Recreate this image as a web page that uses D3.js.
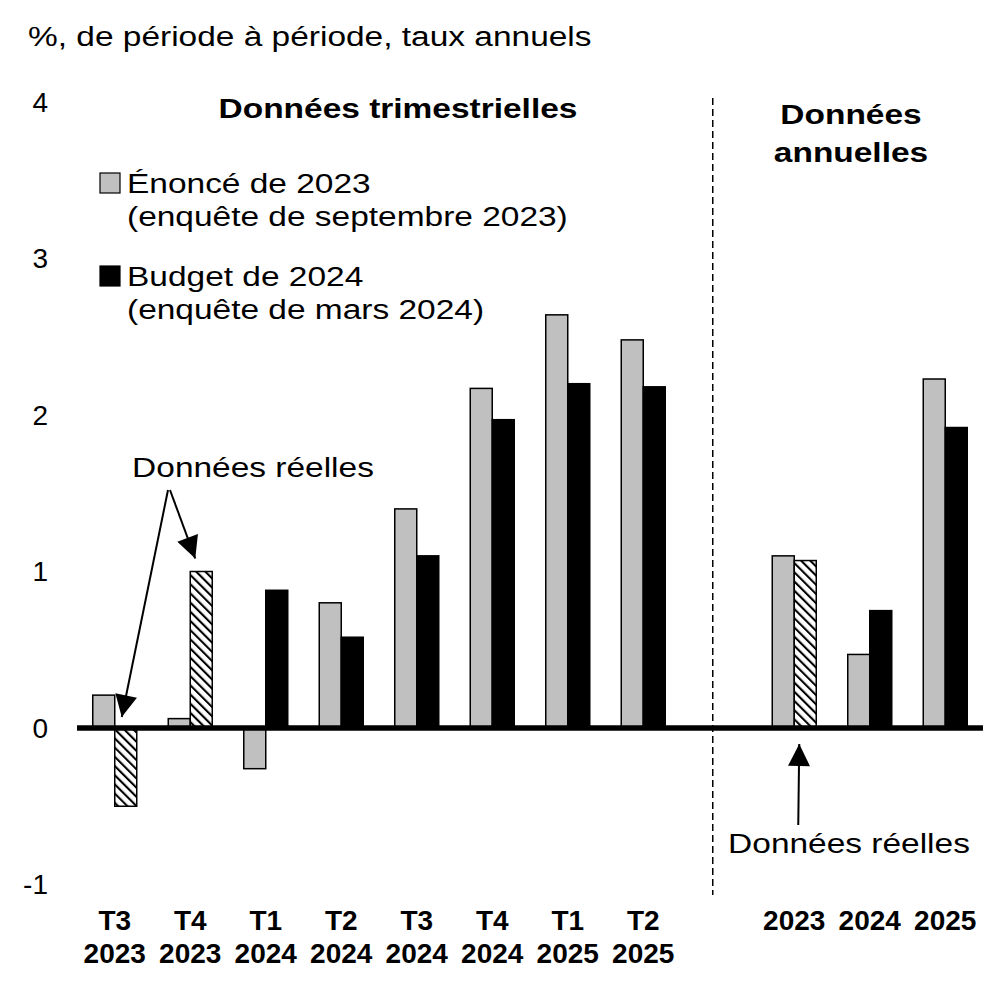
<!DOCTYPE html>
<html>
<head>
<meta charset="utf-8">
<script src="https://cdn.jsdelivr.net/npm/d3@7"></script>
<style>
  body { margin: 0; background: #fff; }
  svg text { font-family: "Liberation Sans", Arial, sans-serif; fill: #000; font-size: 28px; }
</style>
</head>
<body>
<svg width="1004" height="1004"></svg>
<script>
// categories (blank slot separates quarterly and annual data)
var categories = ["T3 2023", "T4 2023", "T1 2024", "T2 2024", "T3 2024", "T4 2024",
                  "T1 2025", "T2 2025", "", "2023", "2024", "2025"];
// Énoncé de 2023 (enquête de septembre 2023)
var fes2023 = [0.21, 0.06, -0.26, 0.80, 1.40, 2.17, 2.64, 2.48, null, 1.10, 0.47, 2.23];
// Budget de 2024 (enquête de mars 2024)
var budget2024 = [-0.50, 1.00, 0.88, 0.58, 1.10, 1.97, 2.20, 2.18, null, 1.07, 0.75, 1.92];
// which budget values are actual data (hatched)
var actual = [true, true, false, false, false, false, false, false, false, true, false, false];
var yTicks = [-1, 0, 1, 2, 3, 4];

var svg = d3.select("svg");
var gray = "#c0c0c0";
var sx = 1.195; // the source text is drawn horizontally wider

var x = d3.scaleBand().domain(categories).range([77, 983]).padding(0);
var y = d3.scaleLinear().domain([-1, 4]).range([884.5, 102]);
var barW = 22;
var cx = function (c) { return x(c) + x.bandwidth() / 2; };

// text block, one line per entry, stretched like the source
function label(px, py, lines, opts) {
  opts = opts || {};
  var t = svg.append("text")
      .attr("transform", "translate(" + px + "," + py + ") scale(" + sx + ",1)")
      .attr("text-anchor", opts.anchor || "start")
      .attr("font-weight", opts.bold ? "bold" : null);
  lines.forEach(function (l, k) {
    t.append("tspan").attr("x", 0).attr("dy", k === 0 ? 0 : (opts.lh || 33)).text(l);
  });
  return t;
}

var defs = svg.append("defs");
var pat = defs.append("pattern")
    .attr("id", "hatch")
    .attr("patternUnits", "userSpaceOnUse")
    .attr("width", 6.5)
    .attr("height", 6.5)
    .attr("patternTransform", "rotate(-45)");
pat.append("rect").attr("width", 6.5).attr("height", 6.5).attr("fill", "#fff");
pat.append("line").attr("x1", 1).attr("y1", 0).attr("x2", 1).attr("y2", 6.5)
    .attr("stroke", "#000").attr("stroke-width", 2.2);

defs.append("marker")
    .attr("id", "arrow")
    .attr("viewBox", "0 0 10 10")
    .attr("refX", 10).attr("refY", 5)
    .attr("markerUnits", "userSpaceOnUse")
    .attr("markerWidth", 24).attr("markerHeight", 22)
    .attr("orient", "auto")
  .append("path")
    .attr("d", "M0,0 L10,5 L0,10 Z")
    .attr("fill", "#000");

// title
label(28, 46, ["%, de période à période, taux annuels"]);

// y tick labels
svg.append("g").selectAll("text")
  .data(yTicks)
  .join("text")
    .attr("x", 48)
    .attr("y", function (d) { return y(d); })
    .attr("dy", "0.35em")
    .attr("text-anchor", "end")
    .text(function (d) { return d; });

// divider between quarterly and annual
svg.append("line")
    .attr("x1", cx("") - 6).attr("x2", cx("") - 6)
    .attr("y1", 98).attr("y2", 895)
    .attr("stroke", "#000")
    .attr("stroke-width", 1.5)
    .attr("stroke-dasharray", "7,4");

// bars
var idx = d3.range(categories.length).filter(function (i) { return fes2023[i] !== null; });
var bars = svg.append("g");
bars.selectAll("rect.fes")
  .data(idx)
  .join("rect")
    .attr("class", "fes")
    .attr("x", function (i) { return cx(categories[i]) - barW; })
    .attr("y", function (i) { return y(Math.max(0, fes2023[i])); })
    .attr("width", barW)
    .attr("height", function (i) { return Math.abs(y(fes2023[i]) - y(0)); })
    .attr("fill", gray)
    .attr("stroke", "#000")
    .attr("stroke-width", 1.5);
bars.selectAll("rect.bud")
  .data(idx)
  .join("rect")
    .attr("class", "bud")
    .attr("x", function (i) { return cx(categories[i]); })
    .attr("y", function (i) { return y(Math.max(0, budget2024[i])); })
    .attr("width", barW)
    .attr("height", function (i) { return Math.abs(y(budget2024[i]) - y(0)); })
    .attr("fill", function (i) { return actual[i] ? "url(#hatch)" : "#000"; })
    .attr("stroke", "#000")
    .attr("stroke-width", 1.5);

// zero line
svg.append("line")
    .attr("x1", 77).attr("x2", 983)
    .attr("y1", y(0)).attr("y2", y(0))
    .attr("stroke", "#000")
    .attr("stroke-width", 5.5);

// x labels
var xl = svg.append("g").selectAll("text")
  .data(categories.filter(function (c) { return c !== ""; }))
  .join("text")
    .attr("x", function (c) { return cx(c); })
    .attr("y", 930)
    .attr("text-anchor", "middle")
    .attr("font-weight", "bold");
xl.each(function (c) {
  var t = d3.select(this);
  c.split(" ").forEach(function (p, k) {
    t.append("tspan").attr("x", cx(c)).attr("dy", k === 0 ? 0 : 33).text(p);
  });
});

// section headings
label(398, 118, ["Données trimestrielles"], { anchor: "middle", bold: true });
label(851, 124, ["Données", "annuelles"], { anchor: "middle", bold: true, lh: 38 });

// legend
var legend = [
  { fill: gray, lines: ["Énoncé de 2023", "(enquête de septembre 2023)"], y: 173 },
  { fill: "#000", lines: ["Budget de 2024", "(enquête de mars 2024)"], y: 266 }
];
legend.forEach(function (d) {
  svg.append("rect")
      .attr("x", 100).attr("y", d.y)
      .attr("width", 20).attr("height", 20)
      .attr("fill", d.fill)
      .attr("stroke", "#000").attr("stroke-width", 1.2);
  label(127, d.y + 20, d.lines);
});

// annotations: actual data
label(253, 477, ["Données réelles"], { anchor: "middle" });
var a0 = { x: 170, y: 490 };
svg.append("line")
    .attr("x1", a0.x).attr("y1", a0.y)
    .attr("x2", cx("T4 2023") + 5).attr("y2", y(1.0) - 13)
    .attr("stroke", "#000").attr("stroke-width", 2)
    .attr("marker-end", "url(#arrow)");
svg.append("line")
    .attr("x1", a0.x - 2).attr("y1", a0.y)
    .attr("x2", cx("T3 2023") + 7).attr("y2", y(0) - 11)
    .attr("stroke", "#000").attr("stroke-width", 2)
    .attr("marker-end", "url(#arrow)");

svg.append("line")
    .attr("x1", cx("2023") + 4).attr("y1", 825)
    .attr("x2", cx("2023") + 5).attr("y2", y(0) + 16)
    .attr("stroke", "#000").attr("stroke-width", 2)
    .attr("marker-end", "url(#arrow)");
label(849, 853, ["Données réelles"], { anchor: "middle" });
</script>
</body>
</html>
